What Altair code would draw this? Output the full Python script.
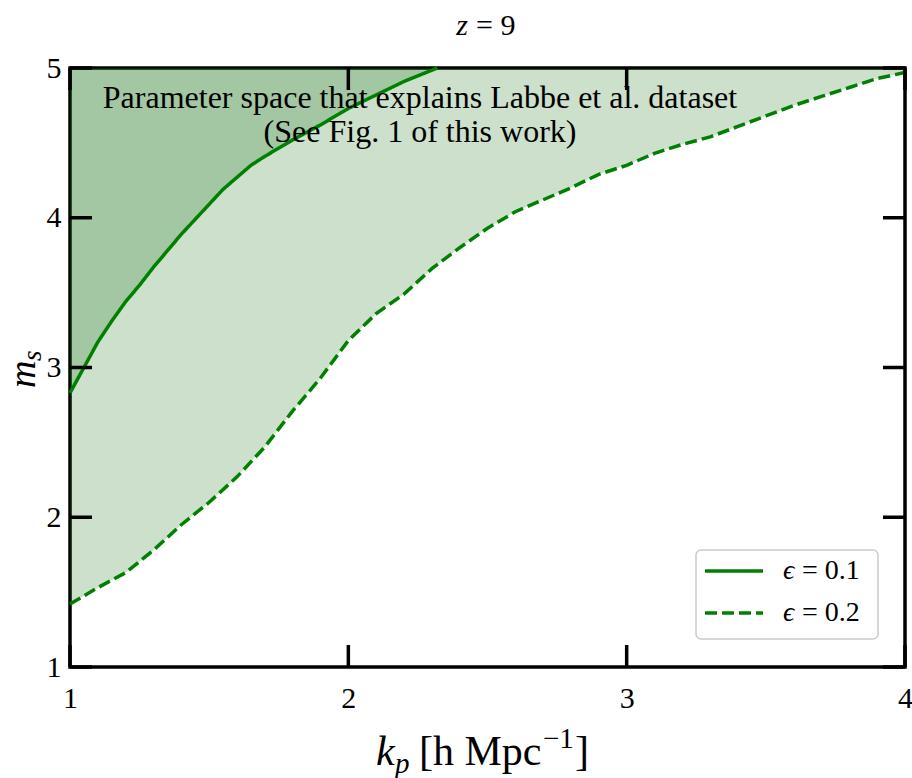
import altair as alt
import pandas as pd

# Boundary of the allowed (k_p, m_s) region, eps = 0.1 (solid curve)
kp_eps01 = [1.00, 1.05, 1.10, 1.15, 1.20, 1.25, 1.30, 1.35, 1.40, 1.45,
            1.50, 1.55, 1.60, 1.65, 1.70, 1.80, 1.90, 2.00, 2.10, 2.20, 2.32]
ms_eps01 = [2.83, 3.00, 3.17, 3.31, 3.44, 3.55, 3.67, 3.78, 3.89, 3.99,
            4.09, 4.19, 4.27, 4.35, 4.41, 4.52, 4.62, 4.73, 4.82, 4.91, 5.00]

# Boundary for eps = 0.2 (dashed curve)
kp_eps02 = [1.00, 1.10, 1.20, 1.30, 1.40, 1.50, 1.60, 1.70, 1.80, 1.90,
            2.00, 2.10, 2.20, 2.30, 2.40, 2.50, 2.60, 2.70, 2.80, 2.90,
            3.00, 3.10, 3.20, 3.30, 3.40, 3.50, 3.60, 3.70, 3.80, 3.90, 4.00]
ms_eps02 = [1.42, 1.53, 1.63, 1.78, 1.95, 2.10, 2.27, 2.47, 2.71, 2.93,
            3.18, 3.36, 3.49, 3.66, 3.80, 3.93, 4.04, 4.12, 4.20, 4.29,
            4.35, 4.43, 4.49, 4.54, 4.61, 4.68, 4.75, 4.81, 4.87, 4.93, 4.97]

series_labels = ["0.1", "0.2"]
series_dash = [[1, 0], [12, 5]]
ms_upper = 5
x_ticks = [1, 2, 3, 4]
y_ticks = [1, 2, 3, 4, 5]

W, H = 835, 599
FONT = "Liberation Serif"
LINE_GREEN = "#008000"
FILL_GREEN = "#006400"

df01 = pd.DataFrame({"kp": kp_eps01, "ms": ms_eps01, "eps": series_labels[0]})
df02 = pd.DataFrame({"kp": kp_eps02, "ms": ms_eps02, "eps": series_labels[1]})
for d in (df01, df02):
    d["top"] = ms_upper
curves = pd.concat([df01, df02], ignore_index=True)

xscale = alt.Scale(domain=[1, 4], nice=False, zero=False)
yscale = alt.Scale(domain=[1, 5], nice=False, zero=False)

x_axis = alt.Axis(values=x_ticks, format="d", title="", domain=False, ticks=False,
                  grid=False, labelFont=FONT, labelFontSize=30, labelColor="black",
                  labelPadding=16, labelFlush=False)
y_axis = alt.Axis(values=y_ticks, format="d", title="", domain=False, ticks=False,
                  grid=False, labelFont=FONT, labelFontSize=30, labelColor="black",
                  labelPadding=9, labelFlush=False)


def band(df):
    # shaded region between a boundary curve and the top of the plot
    return alt.Chart(df).mark_area(color=FILL_GREEN, opacity=0.2).encode(
        x=alt.X("kp:Q", scale=xscale, axis=x_axis),
        y=alt.Y("ms:Q", scale=yscale, axis=y_axis),
        y2="top:Q",
    )


lines = alt.Chart(curves).mark_line(color=LINE_GREEN, strokeWidth=3.5).encode(
    x=alt.X("kp:Q", scale=xscale),
    y=alt.Y("ms:Q", scale=yscale),
    order="kp:Q",
    strokeDash=alt.StrokeDash(
        "eps:N", scale=alt.Scale(domain=series_labels, range=series_dash), legend=None
    ),
)

# Inward ticks on all four sides of the frame
xt = pd.DataFrame({"kp": x_ticks})
yt = pd.DataFrame({"ms": y_ticks})
tick_style = dict(color="black", strokeWidth=3.5)
ticks_bottom = alt.Chart(xt).mark_rule(**tick_style).encode(
    x=alt.X("kp:Q", scale=xscale), y=alt.value(H), y2=alt.value(H - 22))
ticks_top = alt.Chart(xt).mark_rule(**tick_style).encode(
    x=alt.X("kp:Q", scale=xscale), y=alt.value(0), y2=alt.value(22))
ticks_left = alt.Chart(yt).mark_rule(**tick_style).encode(
    y=alt.Y("ms:Q", scale=yscale), x=alt.value(0), x2=alt.value(22))
ticks_right = alt.Chart(yt).mark_rule(**tick_style).encode(
    y=alt.Y("ms:Q", scale=yscale), x=alt.value(W), x2=alt.value(W - 22))

one = pd.DataFrame({"_": [0]})


def label(text, x, y, size, italic=False, align="left", baseline="alphabetic", angle=0):
    kw = dict(font=FONT, fontSize=size, color="black", align=align, baseline=baseline)
    if italic:
        kw["fontStyle"] = "italic"
    if angle:
        kw["angle"] = angle
    return alt.Chart(one).mark_text(**kw).encode(
        x=alt.value(x), y=alt.value(y), text=alt.value(text))


texts = [
    # panel title: z = 9
    label("z", 398, -33, 30, italic=True, align="right"),
    label("= 9", 406, -33, 30),
    # annotation
    label("Parameter space that explains Labbe et al. dataset", 350, 30, 32,
          align="center", baseline="middle"),
    label("(See Fig. 1 of this work)", 350, 64, 32, align="center", baseline="middle"),
    # x axis title: k_p [h Mpc^-1]
    label("k", 306, 697, 42, italic=True),
    label("p", 325, 705, 29, italic=True),
    label("[h Mpc", 349, 697, 42),
    label("\u22121", 473, 680, 29),
    label("]", 505, 697, 42),
    # y axis title: m_s
    label("m", -35, 320, 38, italic=True, angle=270),
    label("s", -29, 293, 27, italic=True, angle=270),
]

# Legend box with the two line styles
LX, LY = 626, 482
legend_box = alt.Chart(one).mark_rect(
    fill="white", stroke="#cccccc", strokeWidth=1.5, cornerRadius=5
).encode(x=alt.value(LX), x2=alt.value(LX + 182), y=alt.value(LY), y2=alt.value(LY + 89))
legend_items = []
for i, (lab, dash) in enumerate(zip(series_labels, series_dash)):
    ry = LY + 21 + 42 * i
    legend_items.append(
        alt.Chart(one).mark_rule(color=LINE_GREEN, strokeWidth=3.5, strokeDash=dash).encode(
            x=alt.value(LX + 9), x2=alt.value(LX + 67), y=alt.value(ry))
    )
    legend_items.append(label("ϵ", LX + 87, ry, 28, italic=True, baseline="middle"))
    legend_items.append(label("= " + lab, LX + 106, ry, 28, baseline="middle"))

chart = alt.layer(
    band(df01), band(df02), lines,
    ticks_bottom, ticks_top, ticks_left, ticks_right,
    *texts, legend_box, *legend_items,
).properties(
    width=W, height=H,
    autosize=alt.AutoSizeParams(type="none"),
    padding={"left": 70, "top": 68, "right": 7, "bottom": 111},
    background="white",
).configure_view(stroke="black", strokeWidth=3.5)

chart.save("out.html", embed_options={"renderer": "svg", "actions": False})
